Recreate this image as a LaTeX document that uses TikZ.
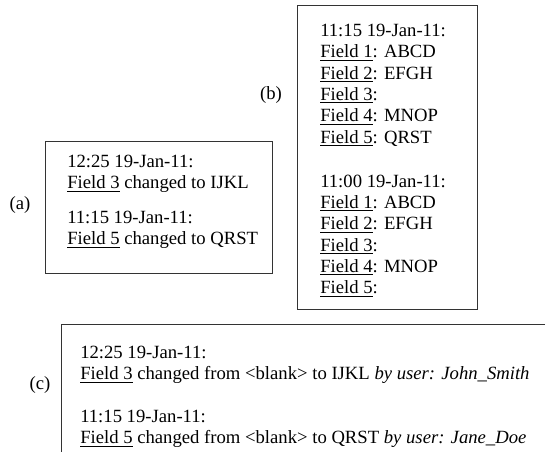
\documentclass[tikz,border=0pt]{standalone}
\usepackage{fontspec}
\setmainfont{Liberation Serif}
\usepackage{tikz}
\usetikzlibrary{positioning}
\tikzset{
  logfont/.style={font=\fontsize{14}{16}\selectfont},
  logframe/.style={draw=black!80, line width=0.75pt},
  logtext/.style={anchor=north west, align=left, inner sep=0pt},
  logtag/.style={inner sep=0pt},
}
\newcommand{\fld}[1]{\underline{Field #1}}

\begin{document}
\begin{tikzpicture}[x=0.75pt, y=-0.75pt, logfont]
  \useasboundingbox (0,0) rectangle (556,452);

  % Box (a): changes only
  \draw[logframe] (45,142) rectangle (272,273);
  \node[logtext] (logA) at (67,155) {12:25 19-Jan-11:\\
    \fld{3} changed to IJKL\\[10pt]
    11:15 19-Jan-11:\\
    \fld{5} changed to QRST};
  \node[logtag] (tagA) at (20,205) {(a)};

  % Box (b): full snapshots
  \draw[logframe] (297,6) rectangle (477,309);
  \node[logtext] (logB) at (320,24) {11:15 19-Jan-11:\\
    \fld{1}: ABCD\\
    \fld{2}: EFGH\\
    \fld{3}:\\
    \fld{4}: MNOP\\
    \fld{5}: QRST\\[17pt]
    11:00 19-Jan-11:\\
    \fld{1}: ABCD\\
    \fld{2}: EFGH\\
    \fld{3}:\\
    \fld{4}: MNOP\\
    \fld{5}:};
  \node[logtag] (tagB) at (271,95) {(b)};

  % Box (c): changes with user, cut at the page edge
  \draw[logframe] (545,324) -- (61,324) -- (61,453);
  \node[logtext] (logC) at (80,346) {12:25 19-Jan-11:\\
    \fld{3} changed from \textless blank\textgreater{} to IJKL \textit{by user: John\_Smith}\\[16pt]
    11:15 19-Jan-11:\\
    \fld{5} changed from \textless blank\textgreater{} to QRST \textit{by user: Jane\_Doe}};
  \node[logtag] (tagC) at (40,385) {(c)};
\end{tikzpicture}
\end{document}
